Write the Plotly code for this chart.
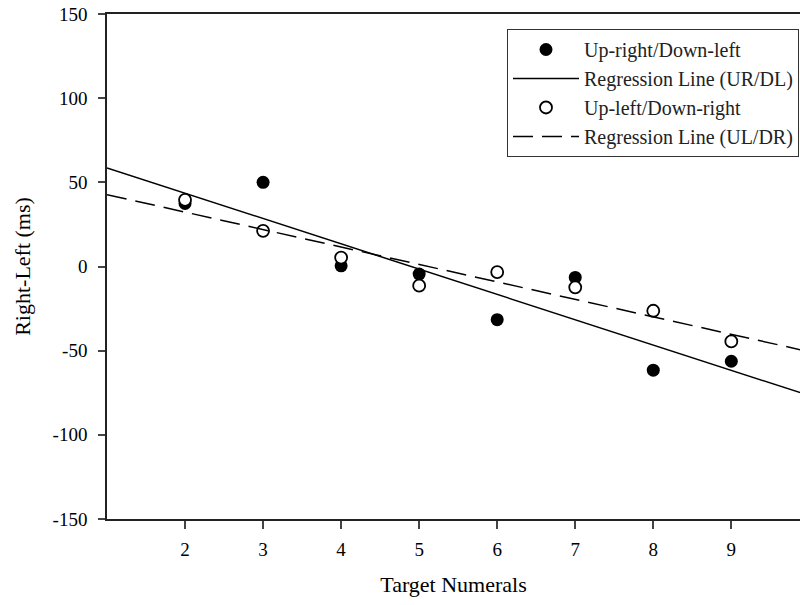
import numpy as np
import plotly.graph_objects as go

# Data
numerals = [2, 3, 4, 5, 6, 7, 8, 9]
ur_dl = [37.5, 50.0, 0.4, -4.5, -31.6, -6.5, -61.6, -56.3]
ul_dr = [39.6, 21.2, 5.3, -11.4, -3.3, -12.4, -26.3, -44.5]
x_ticks = [2, 3, 4, 5, 6, 7, 8, 9]
y_ticks = [-150, -100, -50, 0, 50, 100, 150]
y_tick_labels = ["-150", "-100", "-50", "0", "50", "100", "150"]

line_x = [1, 10]
s1, b1 = np.polyfit(numerals, ur_dl, 1)
s2, b2 = np.polyfit(numerals, ul_dr, 1)
fit1 = [s1 * v + b1 for v in line_x]
fit2 = [s2 * v + b2 for v in line_x]

FONT = "Liberation Serif"

fig = go.Figure()
fig.add_trace(go.Scatter(x=numerals, y=ur_dl, mode="markers", name="Up-right/Down-left",
                         marker=dict(size=13, color="black", line=dict(width=0))))
fig.add_trace(go.Scatter(x=line_x, y=fit1, mode="lines", name="Regression Line (UR/DL)",
                         line=dict(color="black", width=1.5)))
fig.add_trace(go.Scatter(x=numerals, y=ul_dr, mode="markers", name="Up-left/Down-right",
                         marker=dict(size=12, color="white", line=dict(color="black", width=1.8))))
fig.add_trace(go.Scatter(x=line_x, y=fit2, mode="lines", name="Regression Line (UL/DR)",
                         line=dict(color="black", width=1.5, dash="20px,9px")))

fig.update_layout(
    width=800, height=605,
    margin=dict(l=107, r=0, t=14, b=86, autoexpand=False),
    plot_bgcolor="white", paper_bgcolor="white",
    font=dict(family=FONT, color="black", size=19),
    showlegend=True,
    legend=dict(x=(507 - 107) / 693, y=1 - (29 - 14) / 505.5, xanchor="left", yanchor="top",
                bgcolor="white", bordercolor="#333", borderwidth=1,
                font=dict(family=FONT, size=20, color="#222"), itemwidth=66,
                tracegroupgap=0),
    xaxis=dict(range=[1, 9.88], tickvals=x_ticks, ticks="outside", ticklen=8, tickwidth=1.5,
               showline=True, linecolor="#222", linewidth=1.5, mirror=True, showgrid=False,
               zeroline=False, ticklabelstandoff=4, automargin=False,
               title=dict(text="Target Numerals", font=dict(size=22), standoff=18)),
    yaxis=dict(range=[-150, 150], tickvals=y_ticks, ticktext=y_tick_labels, ticks="outside",
               ticklen=7, tickwidth=1.5,
               showline=True, linecolor="#222", linewidth=1.5, showgrid=False,
               zeroline=False, ticklabelstandoff=7, automargin=False,
               title=dict(text="Right-Left (ms)", font=dict(size=22), standoff=16)),
)

fig.write_html("out.html", config={"displayModeBar": False},
               post_script="document.body.style.margin='0';")
